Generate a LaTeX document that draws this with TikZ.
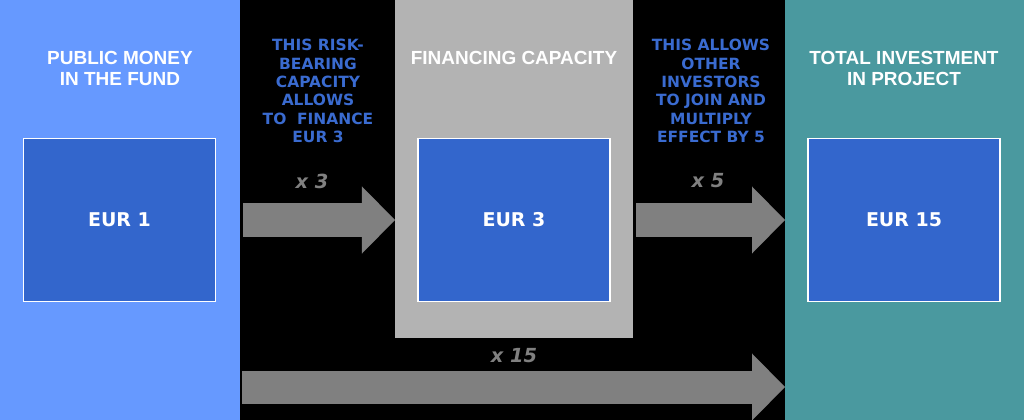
\documentclass[tikz,border=0pt]{standalone}
\usepackage{fontspec}
\setmainfont{Liberation Sans}
\newfontfamily\verdfont{DejaVu Sans}
\usetikzlibrary{arrows.meta,positioning}

\definecolor{pubblue}{HTML}{6699FF}
\definecolor{boxblue}{HTML}{3366CC}
\definecolor{capgrey}{HTML}{B3B3B3}
\definecolor{invteal}{HTML}{4A999F}
\definecolor{arrgrey}{HTML}{808080}
\definecolor{txtblue}{HTML}{3A6BD0}

\tikzset{
  panel/.style={inner sep=0pt, outer sep=0pt, anchor=north west},
  eurbox/.style={draw=white, line width=0.8pt, fill=boxblue, minimum width=4.8cm, minimum height=4.08cm,
    text=white, font=\verdfont\bfseries\fontsize{13.5}{16}\selectfont},
  headtext/.style={text=white, align=center, font=\bfseries\fontsize{13.5}{14.9}\selectfont},
  notetext/.style={text=txtblue, align=center, font=\verdfont\bfseries\fontsize{11}{13.1}\selectfont},
  multlabel/.style={text=arrgrey, font=\verdfont\bfseries\itshape\fontsize{13.8}{15}\selectfont},
  fatarrow/.style={draw=arrgrey, line width=0.825cm, -{Triangle[length=0.825cm, width=1.675cm, line width=0pt]}}
}

\begin{document}
\begin{tikzpicture}[x=0.025cm, y=-0.025cm]
\useasboundingbox (0,0) rectangle (1024,420);
\fill[black] (0,0) rectangle (1024,420);

% three coloured columns
\node[panel, fill=pubblue, minimum width=6cm, minimum height=10.5cm] (pubpanel) at (0,0) {};
\node[panel, fill=capgrey, minimum width=5.95cm, minimum height=8.45cm] (cappanel) at (395,0) {};
\node[panel, fill=invteal, minimum width=5.975cm, minimum height=10.5cm] (invpanel) at (785,0) {};

\node[headtext] (pubhead) at (120,68) {PUBLIC MONEY\\IN THE FUND};
\node[headtext] (caphead) at (514,58) {FINANCING CAPACITY};
\node[headtext] (invhead) at (904,68) {TOTAL INVESTMENT\\IN PROJECT};

\node[eurbox] (eur1) at (119.5,220) {EUR 1};
\node[eurbox] (eur3) at (514,220) {EUR 3};
\node[eurbox] (eur15) at (904,220) {EUR 15};

% notes in the black gaps
\node[notetext] (note1) at (318,91) {THIS RISK-\\BEARING\\CAPACITY\\ALLOWS\\TO\ \ FINANCE\\EUR 3};
\node[notetext] (note2) at (711,91) {THIS ALLOWS\\OTHER\\INVESTORS\\TO JOIN AND\\MULTIPLY\\EFFECT BY 5};

% multiplier arrows
\coordinate (lowrow) at (0,387);
\draw[fatarrow] ([xshift=0.075cm]pubpanel.east |- eur1) -- (cappanel.west |- eur1);
\draw[fatarrow] ([xshift=0.075cm]cappanel.east |- eur3) -- (invpanel.west |- eur3);
\draw[fatarrow] ([xshift=0.05cm]pubpanel.east |- lowrow) -- (invpanel.west |- lowrow);

\node[multlabel] (mult3) at (312,181) {x 3};
\node[multlabel] (mult5) at (708,181) {x 5};
\node[multlabel] (mult15) at (514,356) {x 15};
\end{tikzpicture}
\end{document}
